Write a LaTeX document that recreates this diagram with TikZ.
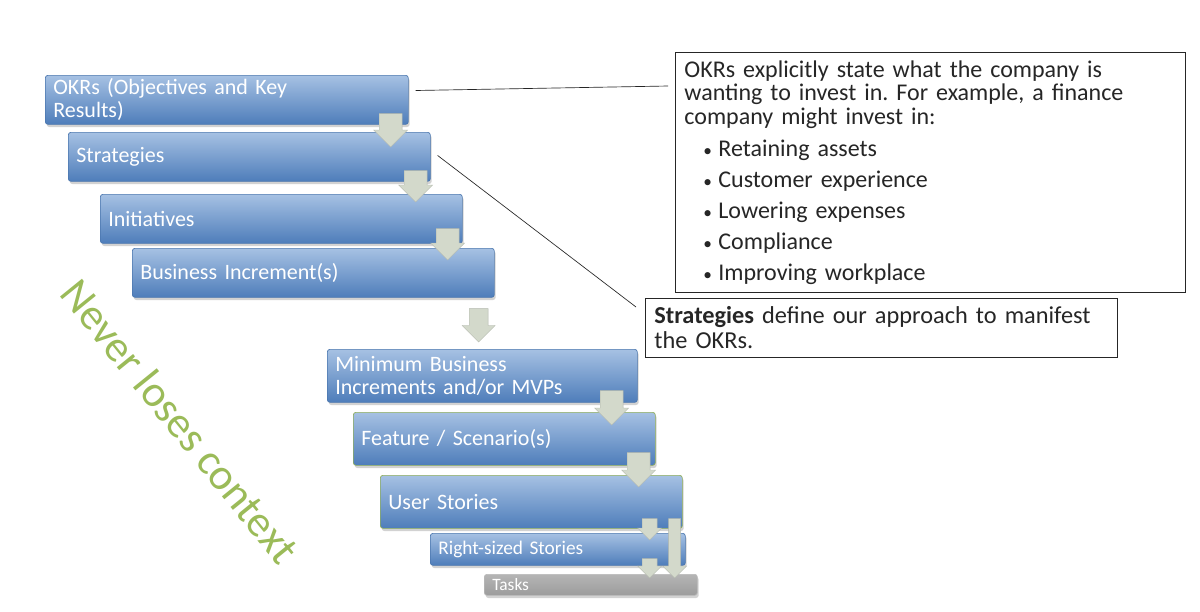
\documentclass[tikz,border=0pt]{standalone}
\usepackage{fontspec}
\setmainfont{Carlito}
\frenchspacing
\usetikzlibrary{calc,shadows}
\definecolor{okTop}{HTML}{A6C1E3}
\definecolor{okBot}{HTML}{4E7DBA}
\definecolor{okEdge}{HTML}{4A76AE}
\definecolor{okGreenEdge}{HTML}{8FAE5A}
\definecolor{okArrow}{HTML}{D3D9CB}
\definecolor{okGray}{HTML}{9C9C9C}
\definecolor{okCtx}{HTML}{9BBB59}
\definecolor{okInk}{HTML}{262626}
\tikzset{
  stg/.style={draw=okEdge, line width=0.5pt, top color=okTop, bottom color=okBot, rounded corners=2pt, inner xsep=6pt, inner ysep=2pt, anchor=north west, align=left, text=white, font=\fontsize{16.5}{17.25}\selectfont, drop shadow={shadow xshift=1pt, shadow yshift=-2pt, opacity=0.35}},
  stgG/.style={stg, draw=okGreenEdge},
  stgT/.style={stg, top color=okGray!75, bottom color=okGray, draw=okGray!70, font=\fontsize{13}{13}\selectfont},
  note/.style={draw=okInk, line width=0.6pt, fill=white, anchor=north west, align=left, inner xsep=6.75pt, text=okInk, font=\fontsize{18}{17.6}\selectfont},
  lnk/.style={draw=okInk, line width=0.5pt},
  blk/.style={fill=okArrow, draw=okArrow!85!black, line width=0.3pt},
}
% block arrow pointing down: top point, tip point, shaft half width, head half width
\newcommand{\blkdown}[4]{%
  \filldraw[blk] let \p1=#1, \p2=#2 in
    (\x1-#3,\y1) -- (\x1+#3,\y1) -- (\x1+#3,\y2+#4) -- (\x1+#4,\y2+#4)
    -- (\x1,\y2) -- (\x1-#4,\y2+#4) -- (\x1-#3,\y2+#4) -- cycle;}
\newcommand{\okitem}{\hspace*{14.25pt}\makebox[11.25pt][l]{\fontsize{13}{13}\selectfont\textbullet}}

\begin{document}
\begin{tikzpicture}[x=0.75pt, y=-0.75pt]
  \fill[white] (0,0) rectangle (1200,611);
  \useasboundingbox (0,0) rectangle (1200,611);

  % the levels
  \node[stg, text width=260.25pt, minimum height=36.75pt] (okr) at (45,75) {OKRs (Objectives and Key\\Results)};
  \node[stg, text width=259.5pt, minimum height=36.75pt] (strat) at (68,132) {Strategies};
  \node[stg, text width=259.5pt, minimum height=36.75pt] (init) at (100,194) {Initiatives};
  \node[stg, text width=259.5pt, minimum height=36.75pt] (binc) at (132,248) {Business Increment(s)};
  \node[stg, text width=220.5pt, minimum height=39.75pt] (mbi) at (327,349) {Minimum Business\\Increments and/or MVPs};
  \node[stgG, text width=214.5pt, minimum height=39.75pt] (feat) at (353,412) {Feature / Scenario(s)};
  \node[stgG, text width=214.5pt, minimum height=39.75pt] (ustory) at (380,475) {User Stories};
  \node[stg, text width=179.25pt, minimum height=24pt, font=\fontsize{14.5}{15}\selectfont] (rstory) at (430,533) {Right-sized Stories};
  \node[stgT, text width=147.75pt, minimum height=15.75pt, inner ysep=0pt] (tasks) at (484,574) {Tasks};

  % arrows between levels
  \blkdown{([xshift=-13.5pt,yshift=8.25pt]okr.south east)}{([yshift=-11.25pt]strat.north)}{8.6pt}{12.75pt}
  \blkdown{([xshift=-11.25pt,yshift=8.25pt]strat.south east)}{([yshift=-6pt]init.north)}{8.6pt}{12.75pt}
  \blkdown{([xshift=-11.25pt,yshift=11.25pt]init.south east)}{([yshift=-9pt]binc.north)}{8.6pt}{12.75pt}
  \blkdown{([xshift=-12pt,yshift=-8.25pt]binc.south east)}{([yshift=5.25pt]mbi.north)}{7.1pt}{12.4pt}
  \blkdown{([xshift=-19.5pt,yshift=9pt]mbi.south east)}{([yshift=-9.75pt]feat.north)}{8.6pt}{12.75pt}
  \blkdown{([xshift=-12.75pt,yshift=9.75pt]feat.south east)}{([yshift=-9pt]ustory.north)}{8.6pt}{12.75pt}
  \blkdown{([xshift=-24.75pt,yshift=7.5pt]ustory.south east)}{([yshift=-5.25pt]rstory.north)}{5.6pt}{9pt}
  \blkdown{([xshift=-6pt,yshift=7.5pt]ustory.south east)}{([yshift=-3pt]tasks.north)}{4.5pt}{9pt}
  \blkdown{([xshift=-27pt,yshift=5.25pt]rstory.south east)}{([yshift=-3pt]tasks.north)}{5.6pt}{9pt}

  % notes
  \node[note, text width=369pt, minimum height=180pt] (noteA) at (675,52) {OKRs explicitly state what the company is\\wanting to invest in. For example, a finance\\company might invest in:\\[6.4pt]
    \okitem Retaining assets\\[5.6pt]
    \okitem Customer experience\\[5.6pt]
    \okitem Lowering expenses\\[5.6pt]
    \okitem Compliance\\[5.6pt]
    \okitem Improving workplace};
  \node[note, text width=340.5pt, minimum height=44.25pt, font=\fontsize{18.25}{18.75}\selectfont] (noteB) at (645,298) {\textbf{Strategies} define our approach to manifest\\the OKRs.};

  \draw[lnk] ([xshift=5.25pt,yshift=7pt]okr.east) -- ([xshift=-5.25pt,yshift=-25.5pt]noteA.north west);
  \draw[lnk] ([xshift=5.25pt,yshift=1pt]strat.east) -- ([xshift=-6.75pt,yshift=-6.75pt]noteB.north west);

  \node[text=okCtx, rotate=-51, font=\fontsize{33}{33}\selectfont] (ctx) at (180,421) {Never loses context};
\end{tikzpicture}
\end{document}
